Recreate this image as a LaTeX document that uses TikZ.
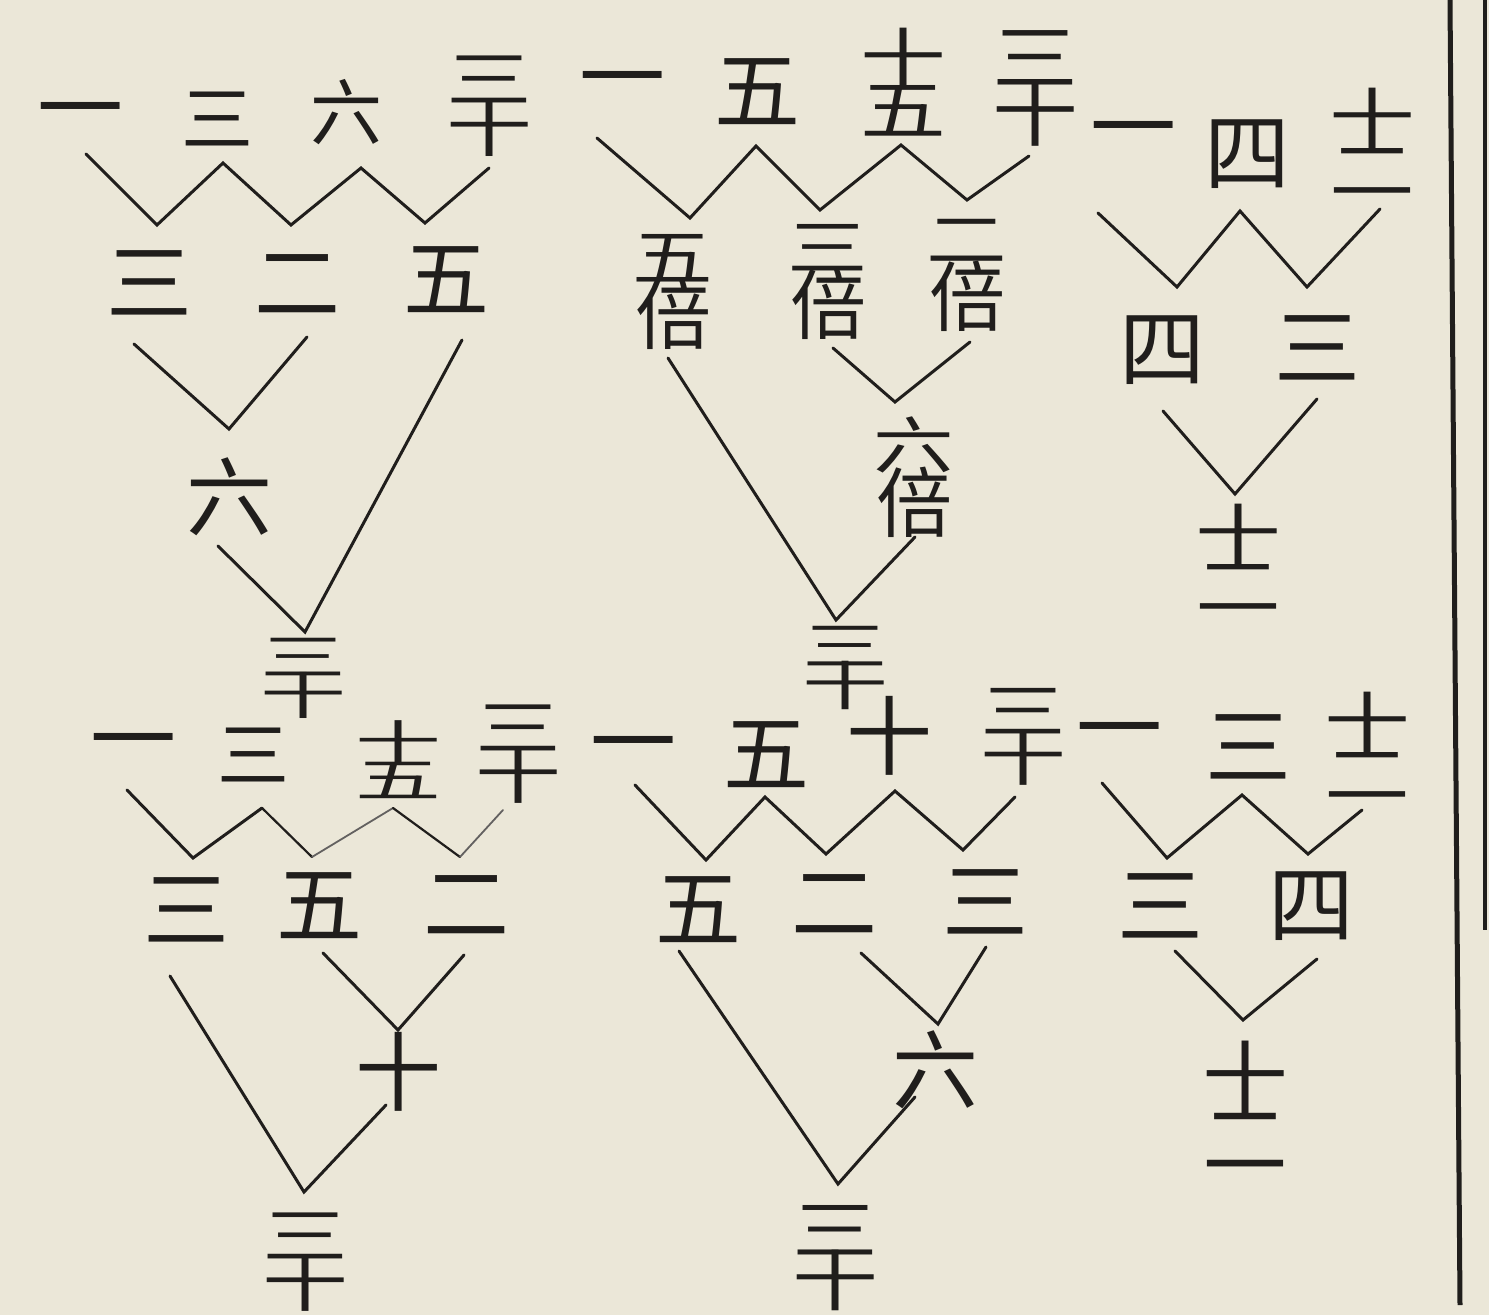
\documentclass[tikz,border=0pt]{standalone}
\usepackage{fontspec}
\usepackage{graphicx}
\newfontfamily\cjk{Noto Sans CJK SC}
\newfontfamily\cjkst[FakeStretch=1.3]{Noto Sans CJK SC}
\definecolor{paper}{RGB}{235,231,216}
\definecolor{ink}{RGB}{32,30,28}
% two numerals set one above the other, as in the original; optional vertical scale
\newcommand{\stk}[3][1]{\scalebox{1}[#1]{\vbox{\baselineskip=51pt\lineskiplimit=-200pt\halign{\hfil##\hfil\cr{\cjkst\fontsize{66}{66}\selectfont #2}\cr{\cjkst\fontsize{66}{66}\selectfont #3}\cr}}}}
% a small numeral above the character bei
\newcommand{\bei}[1]{\vbox{\baselineskip=63pt\lineskiplimit=-200pt\halign{\hfil##\hfil\cr{\cjkst\fontsize{62}{62}\selectfont #1}\cr{\cjk\fontsize{76}{76}\selectfont 倍}\cr}}}
\tikzset{
  ch/.style={inner sep=0pt, text=ink, font=\cjk\fontsize{86}{86}\selectfont},
  chs/.style={inner sep=0pt, text=ink, font=\cjk\fontsize{72}{72}\selectfont},
  conn/.style={draw=ink, line width=3pt, line join=miter, line cap=round},
  faint/.style={draw=ink!70, line width=1.8pt, line cap=round},
  rule/.style={draw=ink, line width=5pt}
}
\begin{document}
\begin{tikzpicture}[x=1pt,y=-1pt]
\fill[paper] (0,0) rectangle (1489,1315);
\useasboundingbox (0,0) rectangle (1489,1315);

% ---------- Diagram 1 ----------
\node[ch]  (d1a) at (80,121)  {一};
\node[chs] (d1b) at (217,119) {三};
\node[chs] (d1c) at (346,112) {六};
\node[ch]  (d1d) at (489,106) {\stk[0.95]{三}{十}};
\node[ch]  (d1e) at (149,283) {三};
\node[ch]  (d1f) at (297,285) {二};
\node[ch]  (d1g) at (446,280) {五};
\node[ch]  (d1h) at (229,497) {六};
\node[ch]  (d1i) at (303,678) {\stk[0.76]{三}{十}};
\coordinate (d1z1) at (86,154);
\coordinate (d1z2) at (157,225);
\coordinate (d1z3) at (223,163);
\coordinate (d1z4) at (291,225);
\coordinate (d1z5) at (361,168);
\coordinate (d1z6) at (425,223);
\coordinate (d1z7) at (489,168);
\draw[conn] (d1z1) -- (d1z2) -- (d1z3) -- (d1z4) -- (d1z5) -- (d1z6) -- (d1z7);
\coordinate (d1v1) at (134,344);
\coordinate (d1v2) at (229,429);
\coordinate (d1v3) at (307,337);
\draw[conn] (d1v1) -- (d1v2) -- (d1v3);
\coordinate (d1w1) at (462,340);
\coordinate (d1w2) at (305,632);
\coordinate (d1w3) at (218,546);
\draw[conn] (d1w1) -- (d1w2) -- (d1w3);

% ---------- Diagram 2 ----------
\node[ch] (d2a) at (622,90)  {一};
\node[ch] (d2b) at (757,92)  {五};
\node[ch] (d2c) at (903,82)  {\stk{十}{五}};
\node[ch] (d2d) at (1035,88) {\stk[1.1]{三}{十}};
\node[ch] (d2e) at (673,292) {\bei{五}};
\node[ch] (d2f) at (828,282) {\bei{三}};
\node[ch] (d2g) at (967,275) {\bei{二}};
\node[ch] (d2h) at (914,477) {\bei{六}};
\node[ch] (d2i) at (845,668) {\stk[0.8]{三}{十}};
\coordinate (d2z1) at (597,138);
\coordinate (d2z2) at (690,218);
\coordinate (d2z3) at (756,146);
\coordinate (d2z4) at (820,210);
\coordinate (d2z5) at (901,145);
\coordinate (d2z6) at (967,200);
\coordinate (d2z7) at (1029,156);
\draw[conn] (d2z1) -- (d2z2) -- (d2z3) -- (d2z4) -- (d2z5) -- (d2z6) -- (d2z7);
\coordinate (d2v1) at (833,348);
\coordinate (d2v2) at (895,402);
\coordinate (d2v3) at (970,342);
\draw[conn] (d2v1) -- (d2v2) -- (d2v3);
\coordinate (d2w1) at (668,358);
\coordinate (d2w2) at (836,620);
\coordinate (d2w3) at (915,537);
\draw[conn] (d2w1) -- (d2w2) -- (d2w3);

% ---------- Diagram 3 ----------
\node[ch] (d3a) at (1133,140) {一};
\node[ch] (d3b) at (1247,154) {四};
\node[ch] (d3c) at (1372,141) {\stk{十}{二}};
\node[ch] (d3d) at (1162,350) {四};
\node[ch] (d3e) at (1317,348) {三};
\node[ch] (d3f) at (1238,557) {\stk{十}{二}};
\coordinate (d3z1) at (1098,213);
\coordinate (d3z2) at (1177,287);
\coordinate (d3z3) at (1240,211);
\coordinate (d3z4) at (1307,287);
\coordinate (d3z5) at (1380,209);
\draw[conn] (d3z1) -- (d3z2) -- (d3z3) -- (d3z4) -- (d3z5);
\coordinate (d3v1) at (1163,411);
\coordinate (d3v2) at (1235,494);
\coordinate (d3v3) at (1317,399);
\draw[conn] (d3v1) -- (d3v2) -- (d3v3);

% ---------- Diagram 4 ----------
\node[ch]  (d4a) at (133,752)  {一};
\node[chs] (d4b) at (253,755)  {三};
\node[ch]  (d4c) at (398,760)  {\stk[0.72]{十}{五}};
\node[ch]  (d4d) at (518,754)  {\stk[0.93]{三}{十}};
\node[ch]  (d4e) at (186,910)  {三};
\node[ch]  (d4f) at (319,906)  {五};
\node[ch]  (d4g) at (466,906)  {二};
\node[ch]  (d4h) at (398,1072) {十};
\node[ch]  (d4i) at (305,1262) {\stk[0.93]{三}{十}};
\coordinate (d4z1) at (127,790);
\coordinate (d4z2) at (193,858);
\coordinate (d4z3) at (262,808);
\coordinate (d4z4) at (312,857);
\coordinate (d4z5) at (393,808);
\coordinate (d4z6) at (460,857);
\coordinate (d4z7) at (503,810);
\draw[conn] (d4z1) -- (d4z2) -- (d4z3);
\draw[conn, line width=2.2pt] (d4z3) -- (d4z4);
\draw[faint] (d4z4) -- (d4z5);
\draw[conn, line width=2.2pt] (d4z5) -- (d4z6);
\draw[faint] (d4z6) -- (d4z7);
\coordinate (d4v1) at (323,953);
\coordinate (d4v2) at (398,1030);
\coordinate (d4v3) at (464,955);
\draw[conn] (d4v1) -- (d4v2) -- (d4v3);
\coordinate (d4w1) at (170,976);
\coordinate (d4w2) at (304,1192);
\coordinate (d4w3) at (386,1105);
\draw[conn] (d4w1) -- (d4w2) -- (d4w3);

% ---------- Diagram 5 ----------
\node[ch] (d5a) at (633,755)  {一};
\node[ch] (d5b) at (766,755)  {五};
\node[ch] (d5c) at (889,736)  {十};
\node[ch] (d5d) at (1023,737) {\stk[0.92]{三}{十}};
\node[ch] (d5e) at (698,910)  {五};
\node[ch] (d5f) at (834,905)  {二};
\node[ch] (d5g) at (985,902)  {三};
\node[ch] (d5h) at (935,1070) {六};
\node[ch] (d5i) at (835,1258) {\stk{三}{十}};
\coordinate (d5z1) at (635,785);
\coordinate (d5z2) at (706,860);
\coordinate (d5z3) at (765,797);
\coordinate (d5z4) at (826,854);
\coordinate (d5z5) at (895,791);
\coordinate (d5z6) at (963,850);
\coordinate (d5z7) at (1015,797);
\draw[conn] (d5z1) -- (d5z2) -- (d5z3) -- (d5z4) -- (d5z5) -- (d5z6) -- (d5z7);
\coordinate (d5v1) at (861,953);
\coordinate (d5v2) at (938,1024);
\coordinate (d5v3) at (986,947);
\draw[conn] (d5v1) -- (d5v2) -- (d5v3);
\coordinate (d5w1) at (679,951);
\coordinate (d5w2) at (838,1184);
\coordinate (d5w3) at (915,1097);
\draw[conn] (d5w1) -- (d5w2) -- (d5w3);

% ---------- Diagram 6 ----------
\node[ch] (d6a) at (1119,741)  {一};
\node[ch] (d6b) at (1248,747)  {三};
\node[ch] (d6c) at (1367,745)  {\stk{十}{二}};
\node[ch] (d6d) at (1160,906)  {三};
\node[ch] (d6e) at (1311,906)  {四};
\node[ch] (d6f) at (1245,1105) {\stk[1.2]{十}{二}};
\coordinate (d6z1) at (1102,783);
\coordinate (d6z2) at (1167,858);
\coordinate (d6z3) at (1242,795);
\coordinate (d6z4) at (1308,854);
\coordinate (d6z5) at (1362,810);
\draw[conn] (d6z1) -- (d6z2) -- (d6z3) -- (d6z4) -- (d6z5);
\coordinate (d6v1) at (1175,951);
\coordinate (d6v2) at (1243,1020);
\coordinate (d6v3) at (1317,959);
\draw[conn] (d6v1) -- (d6v2) -- (d6v3);

% ---------- page rules ----------
\coordinate (r1a) at (1450,0);
\coordinate (r1b) at (1460,1305);
\draw[rule] (r1a) -- (r1b);
\coordinate (r2a) at (1485,0);
\coordinate (r2b) at (1485,930);
\draw[rule, line width=4pt] (r2a) -- (r2b);
\end{tikzpicture}
\end{document}
